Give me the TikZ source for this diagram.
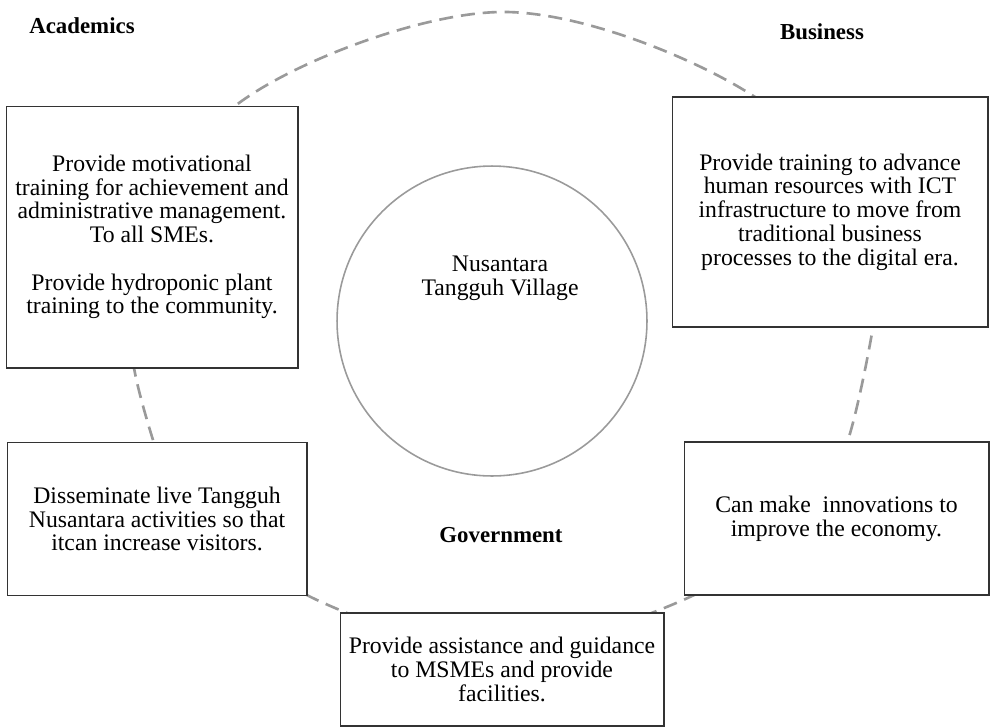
\documentclass[tikz,border=0pt]{standalone}
\usepackage{fontspec}
\setmainfont{Liberation Serif}
\definecolor{ringgray}{HTML}{9A9A9A}
\definecolor{boxgray}{HTML}{333333}

\begin{document}
\begin{tikzpicture}[
    x=0.02cm, y=-0.02cm,
    ring/.style={draw=ringgray, line width=1.5pt, dash pattern=on 8pt off 4.5pt},
    hub/.style={draw=ringgray, line width=0.9pt, circle, minimum size=6.2cm},
    rolebox/.style={draw=boxgray, line width=0.6pt, fill=white, align=center,
        inner sep=2pt, font=\fontsize{13.5}{13.5}\selectfont},
    actor/.style={font=\fontsize{13}{15}\selectfont\bfseries}
    ]
    \useasboundingbox (0,0) rectangle (990,727);

    % dashed ring behind the boxes
    \draw [ring] plot [smooth cycle, tension=0.55] coordinates {
        (500,12) (755,97) (878,260) (873,327) (848,440) (815,505) (692,596)
        (500,650) (317,600) (175,500) (153,440) (134,368) (128,300) (235,106)};

    % village in the middle
    \node [hub] (village) at (492,321) {};
    \node [font=\fontsize{13.5}{13.5}\selectfont, align=center] (villagename) at (500,278) {Nusantara\\Tangguh Village};

    % boxes
    \node [rolebox, minimum width=5.84cm, minimum height=5.24cm] (acad) at (152,237)
        {Provide motivational\\training for achievement and\\administrative management.\\To all SMEs.\\[13.5pt]Provide hydroponic plant\\training to the community.};
    \node [rolebox, minimum width=6.32cm, minimum height=4.6cm] (biz) at (830,212)
        {Provide training to advance\\human resources with ICT\\infrastructure to move from\\traditional business\\processes to the digital era.};
    \node [rolebox, minimum width=6cm, minimum height=3.06cm] (dissem) at (157,519)
        {Disseminate live Tangguh\\Nusantara activities so that\\itcan increase visitors.};
    \node [rolebox, minimum width=6.1cm, minimum height=3.06cm] (innov) at (836.5,518.5)
        {Can make\ \ innovations to\\improve the economy.};
    \node [rolebox, minimum width=6.48cm, minimum height=2.26cm] (gov) at (502,669.5)
        {Provide assistance and guidance\\to MSMEs and provide\\facilities.};

    % actors
    \node [actor] (academics) at (82,26) {Academics};
    \node [actor] (business) at (822,32) {Business};
    \node [actor] (government) at (501,535) {Government};
\end{tikzpicture}
\end{document}
